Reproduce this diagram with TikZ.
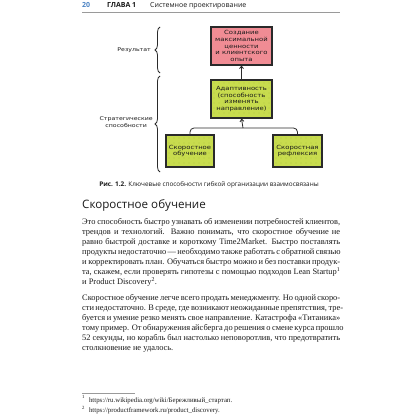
\documentclass[tikz,border=0pt]{standalone}
\usepackage{fontspec}
\setmainfont{Liberation Serif}
\newfontfamily\hsans{Open Sans}
\newfontfamily\dfont[FakeStretch=1.2]{DejaVu Sans}
\usetikzlibrary{decorations.pathreplacing,arrows.meta}
\definecolor{pagenum}{HTML}{4A82C3}
\definecolor{pinkc}{HTML}{F08C94}
\definecolor{greenc}{HTML}{C8DC4E}
\definecolor{dotc}{HTML}{8FA032}
\definecolor{edgec}{HTML}{2A2A2A}
\definecolor{txtc}{HTML}{1A1A1A}
\definecolor{rulec}{HTML}{9A9A9A}
\newcommand\jl[1]{\makebox[258pt][s]{#1}}
\tikzset{
  hdr/.style={anchor=base west, inner sep=0pt, font=\hsans\fontsize{7}{8}\selectfont, text=txtc},
  dbox/.style={draw=edgec, line width=1.1pt, align=center, inner sep=1pt,
    font=\dfont\fontsize{5.7}{6.8}\selectfont, text=txtc},
  greenbox/.style={dbox, fill=greenc,
    path picture={\foreach \xx in {3,8,...,68} \foreach \yy in {3,8,...,43}
      \fill[dotc] ([shift={(\xx pt,-\yy pt)}]path picture bounding box.north west) circle (0.28pt);}},
  blab/.style={anchor=east, align=center, inner sep=0pt, font=\dfont\fontsize{5.2}{6.5}\selectfont, text=txtc},
  brc/.style={draw=edgec, line width=0.8pt, decorate, decoration={brace, amplitude=5pt}},
  arr/.style={draw=edgec, line width=0.8pt, -{Straight Barb[length=2.5pt,width=4pt]}},
  bodyt/.style={anchor=base west, inner sep=0pt, font=\fontsize{8.4}{10}\selectfont, text=txtc},
  fnt/.style={anchor=base west, inner sep=0pt, font=\fontsize{6.8}{8}\selectfont, text=txtc},
}
\newcommand\bline[3]{\node[bodyt] (#1) at (82,#2) {#3};}
\begin{document}
\begin{tikzpicture}[x=1pt,y=-1pt]
\useasboundingbox (0,0) rectangle (420,420);
\fill[white] (0,0) rectangle (420,420);
% header
\node[hdr, font=\hsans\bfseries\fontsize{7}{8}\selectfont, text=pagenum] (pg) at (82,8) {20};
\node[hdr, font=\hsans\bfseries\fontsize{7}{8}\selectfont] (chap) at (107,8) {ГЛАВА 1};
\node[hdr] (ctitle) at (150,8) {Системное проектирование};
\coordinate (hr1) at (82,12.5);
\coordinate (hr2) at (340,12.5);
\draw[rulec, line width=0.8pt] (hr1) -- (hr2);
% diagram
\node[dbox, fill=pinkc, minimum width=61pt, minimum height=38pt] (res) at (241.5,46) {Создание\\максимальной\\ценности\\и клиентского\\опыта};
\node[greenbox, minimum width=61pt, minimum height=38pt] (adapt) at (241.5,99) {Адаптивность\\(способность\\изменять\\направление)};
\node[greenbox, minimum width=48pt, minimum height=32pt] (lo) at (190,151) {Скоростное\\обучение};
\node[greenbox, minimum width=49pt, minimum height=32pt] (ro) at (297.5,151) {Скоростная\\рефлексия};
\draw[arr] (adapt.north) -- (res.south);
\coordinate (j) at (243,128);
\draw[draw=edgec, line width=0.8pt, rounded corners=4pt] (lo.north) |- (j) -| (ro.north);
\draw[arr] (j) -- (adapt.south);
% braces
\coordinate (b1t) at (160,27);
\coordinate (b1b) at (160,73);
\coordinate (b2t) at (160,76);
\coordinate (b2b) at (160,172);
\draw[brc] (b1b) -- (b1t);
\draw[brc] (b2b) -- (b2t);
\node[blab] (lres) at (151,50.5) {Результат};
\node[blab] (lstr) at (153,122) {Стратегические\\способности};
% caption
\node[anchor=base, inner sep=0pt, font=\hsans\fontsize{6.4}{8}\selectfont, text=txtc] (cap) at (209,186.5) {{\bfseries Рис. 1.2.} Ключевые способности гибкой организации взаимосвязаны};
% heading
\node[anchor=base west, inner sep=0pt, font=\hsans\fontsize{11.6}{14}\selectfont, text=txtc] (head) at (82,208) {Скоростное обучение};
% paragraph 1
\bline{a1}{224}{\jl{Это способность быстро узнавать об изменении потребностей клиентов,}}
\bline{a2}{234}{\jl{трендов и технологий. Важно понимать, что скоростное обучение не}}
\bline{a3}{244}{\jl{равно быстрой доставке и короткому Time2Market. Быстро поставлять}}
\bline{a4}{254}{\jl{продукты недостаточно — необходимо также работать с обратной связью}}
\bline{a5}{264}{\jl{и корректировать план. Обучаться быстро можно и без поставки продук-}}
\bline{a6}{274}{\jl{та, скажем, если проверять гипотезы с помощью подходов Lean Startup\textsuperscript{1}}}
\bline{a7}{284}{и Product Discovery\textsuperscript{2}.}
% paragraph 2
\bline{b1}{300.5}{\jl{Скоростное обучение легче всего продать менеджменту. Но одной скоро-}}
\bline{b2}{310.5}{\jl{сти недостаточно. В среде, где возникают неожиданные препятствия, тре-}}
\bline{b3}{320.5}{\jl{буется и умение резко менять свое направление. Катастрофа «Титаника»}}
\bline{b4}{330.5}{\jl{тому пример. От обнаружения айсберга до решения о смене курса прошло}}
\bline{b5}{340.5}{\jl{52 секунды, но корабль был настолько неповоротлив, что предотвратить}}
\bline{b6}{350.5}{столкновение не удалось.}
% footnotes
\coordinate (fr1) at (82,393);
\coordinate (fr2) at (135,393);
\draw[rulec, line width=0.5pt] (fr1) -- (fr2);
\node[fnt] (f1) at (82,402) {\textsuperscript{1}\hspace{4pt}https://ru.wikipedia.org/wiki/Бережливый\_стартап.};
\node[fnt] (f2) at (82,412.5) {\textsuperscript{2}\hspace{4pt}https://productframework.ru/product\_discovery.};
\end{tikzpicture}
\end{document}
